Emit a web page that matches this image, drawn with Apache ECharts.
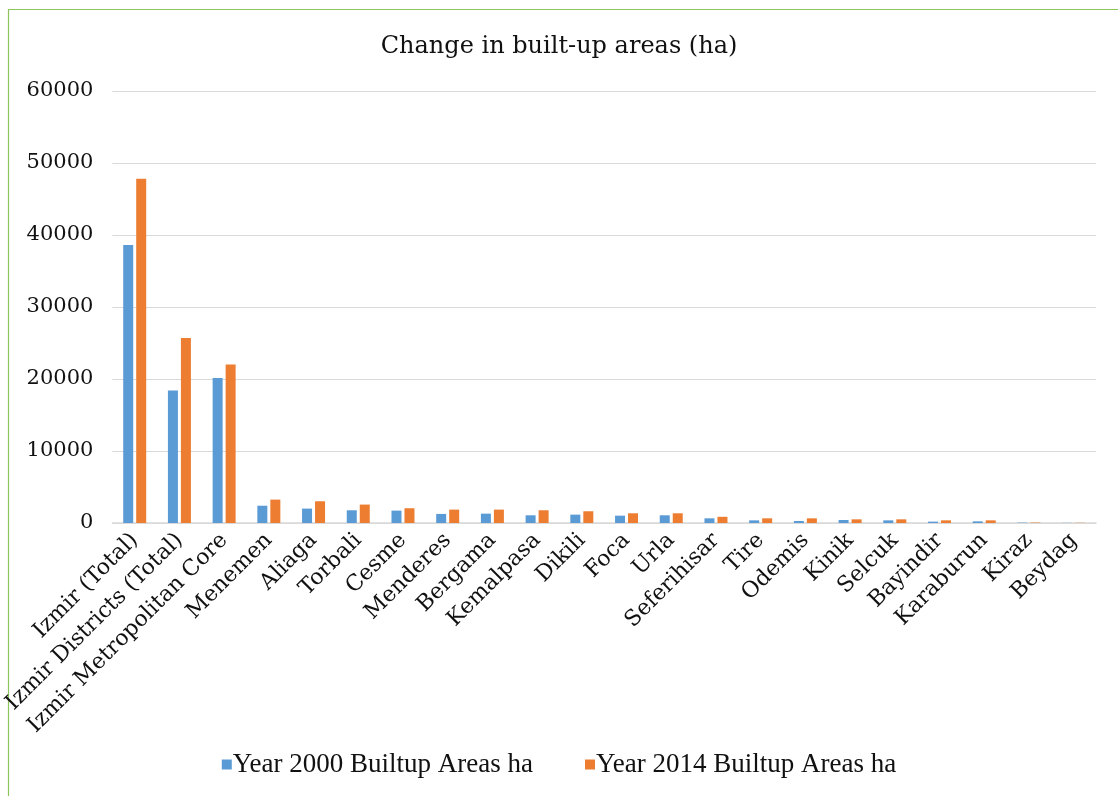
<!DOCTYPE html>
<html>
<head>
<meta charset="utf-8">
<script src="https://cdn.jsdelivr.net/npm/echarts@6/dist/echarts.min.js"></script>
<style>
html,body{margin:0;padding:0;background:#fff;}
#chart{width:1118px;height:796px;}
</style>
</head>
<body>
<div id="chart"></div>
<script>
const categories = ["Izmir (Total)","Izmir Districts (Total)","Izmir Metropolitan Core","Menemen","Aliaga","Torbali","Cesme","Menderes","Bergama","Kemalpasa","Dikili","Foca","Urla","Seferihisar","Tire","Odemis","Kinik","Selcuk","Bayindir","Karaburun","Kiraz","Beydag"];
const year2000 = [38600,18400,20150,2400,2000,1770,1720,1260,1300,1070,1160,1020,1070,650,370,280,420,370,190,230,50,20];
const year2014 = [47800,25700,22000,3250,3020,2560,2050,1860,1860,1770,1630,1350,1350,860,650,650,510,510,370,370,60,30];
const yTicks = [0,10000,20000,30000,40000,50000,60000];
const seriesNames = ["Year 2000 Builtup Areas ha","Year 2014 Builtup Areas ha"];

const chart = echarts.init(document.getElementById('chart'), null, {renderer:'canvas'});
const serif = '"DejaVu Serif", serif';
chart.setOption({
  animation:false,
  backgroundColor:'#fff',
  graphic:[{type:'rect',left:6,top:7,shape:{width:1130,height:800},style:{fill:'none',stroke:'#8DC55A',lineWidth:1.2},silent:true}],
  title:{text:'Change in built-up areas (ha)',left:'center',top:30,textStyle:{fontFamily:serif,fontWeight:'normal',fontSize:24,color:'#111'}},
  legend:{bottom:13,left:'center',itemWidth:10,itemHeight:10,itemGap:52,icon:'rect',
    textStyle:{fontFamily:'"Liberation Serif", serif',fontSize:27,color:'#111',padding:[0,0,0,-4]},
    data:seriesNames},
  grid:{left:108,right:22,top:91,bottom:273,containLabel:false},
  xAxis:{type:'category',data:categories,
    axisLine:{lineStyle:{color:'#D9D9D9',width:1.5}},axisTick:{show:false},
    axisLabel:{rotate:45,interval:0,fontFamily:serif,fontSize:22,color:'#111',margin:14}},
  yAxis:{type:'value',min:yTicks[0],max:yTicks[yTicks.length-1],interval:10000,
    axisLine:{show:false},axisTick:{show:false},
    splitLine:{lineStyle:{color:'#D9D9D9',width:1.2}},
    axisLabel:{fontFamily:serif,fontSize:21,color:'#111',margin:19,formatter:function(v){return String(v);}}},
  series:[
    {name:seriesNames[0],type:'bar',data:year2000,barWidth:10,barGap:'30%',itemStyle:{color:'#5B9BD5'}},
    {name:seriesNames[1],type:'bar',data:year2014,barWidth:10,itemStyle:{color:'#ED7D31'}}
  ]
});
</script>
</body>
</html>
